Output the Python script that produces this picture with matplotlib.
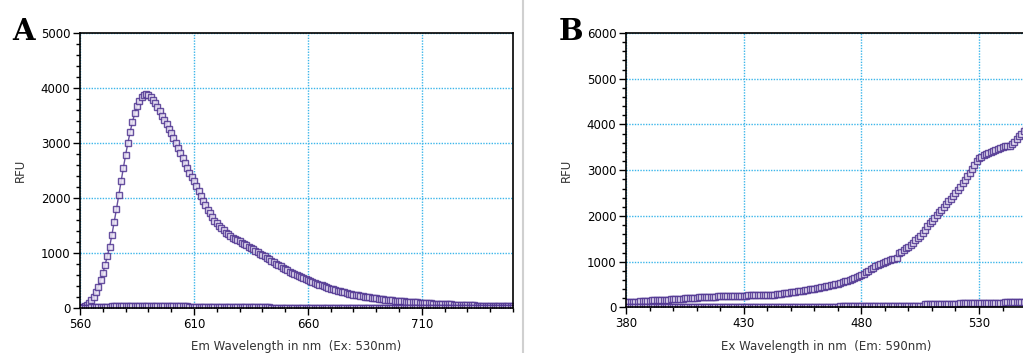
import numpy as np
import matplotlib
matplotlib.use("Agg")
import matplotlib.pyplot as plt
from matplotlib.ticker import MultipleLocator
from matplotlib.lines import Line2D

# Panel A: emission scan (Ex 530 nm), 1 nm steps from 560 to 750
em_wl = np.arange(560, 751)
em_sample = [
    20, 25, 35, 55, 90, 140, 205, 290, 390, 500,
    630, 780, 950, 1115, 1330, 1560, 1800, 2050, 2300, 2540,
    2780, 3000, 3200, 3380, 3540, 3670, 3770, 3840, 3880, 3885,
    3870, 3830, 3780, 3720, 3650, 3580, 3500, 3420, 3340, 3260,
    3180, 3090, 3000, 2910, 2820, 2730, 2640, 2550, 2460, 2380,
    2300, 2210, 2120, 2030, 1950, 1870, 1790, 1720, 1650, 1590,
    1540, 1490, 1450, 1410, 1370, 1340, 1310, 1280, 1255, 1230,
    1210, 1190, 1165, 1140, 1115, 1090, 1065, 1040, 1015, 990,
    965, 940, 910, 885, 860, 830, 805, 780, 755, 730,
    705, 685, 660, 640, 620, 600, 580, 560, 540, 520,
    500, 485, 470, 455, 440, 425, 410, 395, 380, 365,
    350, 338, 326, 314, 302, 292, 282, 272, 263, 254,
    245, 237, 229, 221, 214, 207, 200, 193, 187, 181,
    175, 169, 164, 159, 154, 149, 144, 140, 136, 132,
    128, 124, 120, 117, 113, 110, 107, 104, 101, 98,
    95, 92, 89, 86, 84, 81, 79, 77, 74, 72,
    70, 68, 66, 64, 62, 60, 58, 56, 55, 53,
    51, 50, 48, 47, 45, 44, 43, 41, 40, 39,
    38, 37, 36, 35, 34, 33, 32, 31, 30, 29,
    28,
]
em_blank = [
    0, 2, 4, 6, 8, 10, 12, 14, 16, 18,
    20, 22, 24, 26, 28, 30, 32, 34, 36, 38,
    40, 40, 40, 40, 40, 40, 40, 40, 40, 40,
    40, 40, 40, 40, 40, 40, 40, 40, 40, 40,
    40, 40, 40, 40, 40, 40, 35, 30, 25, 22,
    20, 20, 20, 18, 18, 18, 16, 16, 16, 15,
    15, 15, 14, 14, 14, 13, 13, 13, 12, 12,
    12, 12, 11, 11, 11, 10, 10, 10, 10, 10,
    10, 9, 9, 9, 8, 8, 8, 7, 7, 7,
    6, 6, 6, 5, 5, 5, 5, 4, 4, 4,
    4, 4, 3, 3, 3, 3, 3, 3, 2, 2,
    2, 2, 2, 2, 2, 2, 1, 1, 1, 1,
    1, 1, 1, 1, 1, 1, 1, 1, 1, 1,
    0, 0, 0, 0, 0, 0, 0, 0, 0, 0,
    0, 0, 0, 0, 0, 0, 0, 0, 0, 0,
    0, 0, 0, 0, 0, 0, 0, 0, 0, 0,
    0, 0, 0, 0, 0, 0, 0, 0, 0, 0,
    0, 0, 0, 0, 0, 0, 0, 0, 0, 0,
    0, 0, 0, 0, 0, 0, 0, 0, 0, 0,
    0,
]

# Panel B: excitation scan (Em 590 nm), 1 nm steps from 380 to 552
ex_wl = np.arange(380, 553)
ex_sample = [
    110, 114, 118, 122, 126, 130, 134, 138, 142, 146,
    150, 153, 156, 159, 162, 165, 168, 171, 174, 177,
    180, 183, 187, 190, 194, 197, 201, 204, 208, 211,
    215, 218, 221, 224, 227, 230, 233, 236, 239, 242,
    245, 247, 249, 251, 253, 255, 256, 257, 258, 259,
    260, 261, 262, 263, 264, 265, 266, 267, 268, 269,
    270, 273, 276, 280, 285, 290, 298, 306, 314, 322,
    330, 338, 346, 354, 362, 370, 378, 386, 394, 402,
    410, 420, 430, 440, 450, 460, 472, 484, 496, 508,
    520, 536, 552, 568, 584, 600, 620, 642, 664, 686,
    710, 740, 770, 800, 835, 870, 900, 930, 955, 980,
    1000, 1020, 1040, 1055, 1070, 1080, 1180, 1220, 1260, 1300,
    1330, 1370, 1420, 1470, 1520, 1570, 1630, 1700, 1770, 1840,
    1900, 1960, 2020, 2080, 2140, 2200, 2260, 2320, 2380, 2440,
    2500, 2560, 2640, 2720, 2790, 2870, 2950, 3030, 3120, 3200,
    3260, 3300, 3330, 3360, 3380, 3400, 3420, 3440, 3460, 3480,
    3500, 3520, 3530, 3540, 3570, 3620, 3680, 3740, 3800, 3850,
    3900, 3940, 3980,
]
ex_blank = [
    20, 20, 20, 20, 20, 20, 20, 20, 20, 20,
    20, 20, 20, 20, 20, 20, 20, 20, 20, 20,
    20, 20, 20, 20, 20, 20, 20, 20, 20, 20,
    20, 20, 20, 20, 20, 20, 20, 20, 20, 20,
    20, 20, 20, 20, 20, 20, 20, 20, 20, 20,
    20, 20, 20, 20, 20, 20, 20, 20, 20, 20,
    20, 20, 20, 20, 20, 20, 20, 20, 20, 20,
    20, 20, 20, 20, 20, 20, 20, 20, 20, 20,
    20, 20, 20, 20, 20, 20, 20, 20, 20, 20,
    20, 40, 40, 40, 40, 40, 40, 40, 40, 40,
    40, 40, 40, 40, 40, 40, 40, 40, 40, 40,
    40, 40, 40, 40, 40, 40, 40, 40, 40, 40,
    40, 40, 40, 40, 40, 40, 40, 70, 70, 70,
    70, 70, 70, 70, 70, 70, 70, 70, 70, 70,
    70, 70, 100, 100, 100, 100, 100, 100, 100, 100,
    100, 100, 100, 100, 100, 100, 100, 100, 100, 100,
    100, 120, 120, 120, 120, 120, 120, 120, 120, 120,
    120, 120, 120,
]

purple = "#4e3390"
grid_col = "#3cb6ea"

fig = plt.figure(figsize=(10.23, 3.53), dpi=100)


def style_axes(ax, xlim, ylim, xmajor, ymajor, xlabel):
    ax.set_xlim(*xlim)
    ax.set_ylim(*ylim)
    ax.xaxis.set_major_locator(MultipleLocator(xmajor))
    ax.xaxis.set_minor_locator(MultipleLocator(10))
    ax.yaxis.set_major_locator(MultipleLocator(ymajor))
    ax.yaxis.set_minor_locator(MultipleLocator(200))
    ax.grid(True, which="major", color=grid_col, linestyle=(0, (1, 1)), linewidth=1.0)
    ax.tick_params(which="major", length=5, width=1, labelsize=8.5, colors="black", pad=2)
    ax.tick_params(which="minor", length=3, width=1)
    for s in ax.spines.values():
        s.set_color("black")
        s.set_linewidth(1.2)
    ax.set_xlabel(xlabel, fontsize=8.5, color="#333333", labelpad=7)
    ax.set_ylabel("RFU", fontsize=8.5, color="#333333", labelpad=10)


def draw(ax, x, y):
    ax.plot(x, y, color=purple, linewidth=1.0, marker="s", markersize=4.6,
            markerfacecolor="#ece6f5", markeredgecolor=purple, markeredgewidth=1.0,
            alpha=0.85, clip_on=True)


axA = fig.add_axes([0.0782, 0.1275, 0.4233, 0.779])
draw(axA, em_wl, em_sample)
draw(axA, em_wl, em_blank)
style_axes(axA, (560, 750), (0, 5000), 50, 1000, "Em Wavelength in nm  (Ex: 530nm)")
axA.set_xticks([560, 610, 660, 710])

axB = fig.add_axes([0.612, 0.129, 0.391, 0.7775])
draw(axB, ex_wl, ex_sample)
draw(axB, ex_wl, ex_blank)
style_axes(axB, (380, 550), (0, 6000), 50, 1000, "Ex Wavelength in nm  (Em: 590nm)")
axB.set_xticks([380, 430, 480, 530])

fig.text(0.012, 0.887, "A", fontsize=21, fontweight="bold", family="DejaVu Serif")
fig.text(0.546, 0.887, "B", fontsize=21, fontweight="bold", family="DejaVu Serif")

# light gray separator between panels
fig.add_artist(Line2D([0.5115, 0.5115], [0, 1], transform=fig.transFigure,
                      color="#d0d0d0", linewidth=1.5))

fig.savefig("out.png", dpi=100)
